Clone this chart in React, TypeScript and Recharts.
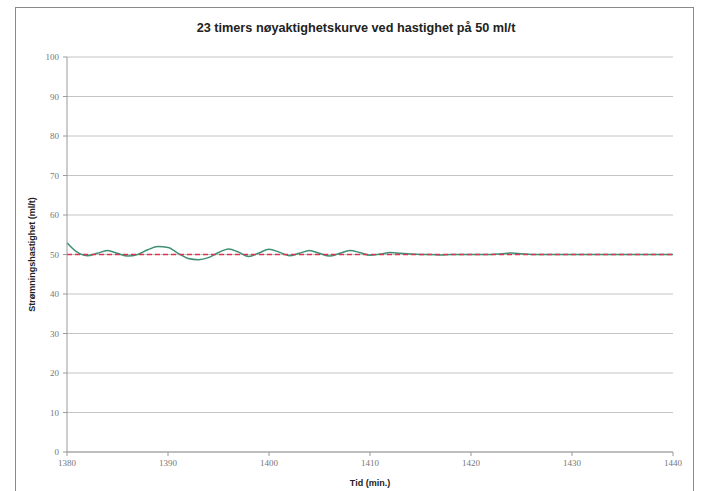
import React from "react";
import { LineChart, Line, XAxis, YAxis, CartesianGrid, Label } from "recharts";

const minutes: number[] = [
  1380, 1381, 1382, 1383, 1384, 1385, 1386, 1387, 1388, 1389,
  1390, 1391, 1392, 1393, 1394, 1395, 1396, 1397, 1398, 1399,
  1400, 1401, 1402, 1403, 1404, 1405, 1406, 1407, 1408, 1409,
  1410, 1411, 1412, 1413, 1414, 1415, 1416, 1417, 1418, 1419,
  1420, 1421, 1422, 1423, 1424, 1425, 1426, 1427, 1428, 1429,
  1430, 1431, 1432, 1433, 1434, 1435, 1436, 1437, 1438, 1439, 1440,
];

const flowRate: number[] = [
  53.0, 50.6, 49.7, 50.3, 51.0, 50.3, 49.6, 50.0, 51.2, 52.0,
  51.8, 50.3, 49.0, 48.7, 49.2, 50.5, 51.4, 50.6, 49.5, 50.4,
  51.3, 50.6, 49.7, 50.3, 51.0, 50.3, 49.6, 50.3, 51.0, 50.5,
  49.8, 50.1, 50.5, 50.3, 50.1, 50.0, 50.0, 49.9, 50.0, 50.0,
  50.0, 50.0, 50.0, 50.2, 50.4, 50.2, 50.0, 50.0, 50.0, 50.0,
  50.0, 50.0, 50.0, 50.0, 50.0, 50.0, 50.0, 50.0, 50.0, 50.0, 50.0,
];

const targetRate = 50;

const xTicks: number[] = [1380, 1390, 1400, 1410, 1420, 1430, 1440];
const yTicks: number[] = [0, 10, 20, 30, 40, 50, 60, 70, 80, 90, 100];

const title = "23 timers nøyaktighetskurve ved hastighet på 50 ml/t";
const yLabel = "Strømningshastighet (ml/t)";
const xLabel = "Tid (min.)";

const data = minutes.map((m, i) => ({
  t: m,
  flow: flowRate[i],
  target: targetRate,
}));

const tickStyle = { fontSize: 9, fill: "#777", fontFamily: "Liberation Serif, serif" };

export default function App() {
  return (
    <div style={{ position: "absolute", left: 0, top: 0, width: 703, height: 491, background: "#fff", overflow: "hidden" }}>
      <div
        style={{
          position: "absolute",
          left: 15,
          top: 7,
          width: 679,
          height: 500,
          border: "1px solid #8a8a8a",
          boxSizing: "border-box",
        }}
      />
      <div
        style={{
          position: "absolute",
          left: 0,
          top: 21,
          width: 712,
          textAlign: "center",
          fontFamily: "Liberation Sans, sans-serif",
          fontWeight: "bold",
          fontSize: 12.7,
          color: "#222",
          whiteSpace: "nowrap",
        }}
      >
        {title}
      </div>
      <LineChart
        width={703}
        height={491}
        data={data}
        margin={{ top: 57, right: 30, bottom: 0, left: 0 }}
        style={{ position: "absolute", left: 0, top: 0 }}
      >
        <CartesianGrid vertical={false} stroke="#c4c4c4" strokeWidth={1} />
        <XAxis
          dataKey="t"
          type="number"
          domain={[1380, 1440]}
          ticks={xTicks}
          tick={tickStyle}
          tickSize={4}
          tickMargin={4}
          stroke="#9a9a9a"
          height={39}
        >
          <Label
            value={xLabel}
            position="insideBottom"
            offset={5}
            style={{ fontSize: 9, fontWeight: "bold", fill: "#222", fontFamily: "Liberation Sans, sans-serif" }}
          />
        </XAxis>
        <YAxis
          type="number"
          domain={[0, 100]}
          ticks={yTicks}
          tick={tickStyle}
          tickSize={4}
          tickMargin={4}
          stroke="#9a9a9a"
          width={67}
        >
          <Label
            value={yLabel}
            angle={-90}
            position="center"
            dx={-2}
            style={{ fontSize: 9, fontWeight: "bold", fill: "#222", fontFamily: "Liberation Sans, sans-serif", textAnchor: "middle" }}
          />
        </YAxis>
        <Line
          type="monotone"
          dataKey="flow"
          stroke="#3f8f74"
          strokeWidth={1.5}
          dot={false}
          isAnimationActive={false}
        />
        <Line
          type="linear"
          dataKey="target"
          stroke="#e0324f"
          strokeWidth={1.5}
          strokeDasharray="5 3"
          dot={false}
          isAnimationActive={false}
        />
      </LineChart>
    </div>
  );
}
